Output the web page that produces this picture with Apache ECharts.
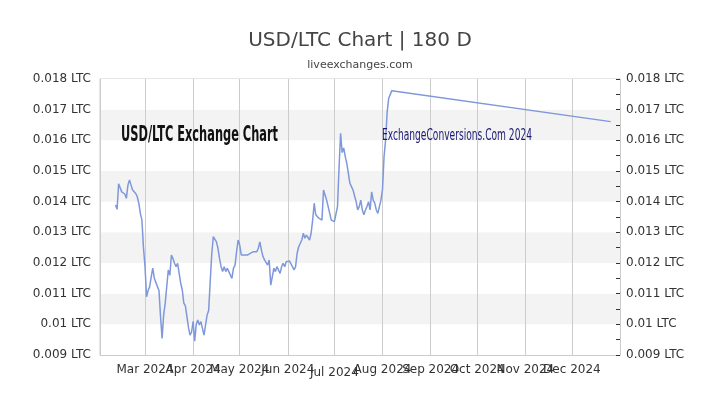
<!DOCTYPE html>
<html>
<head>
<meta charset="utf-8">
<script src="https://cdn.jsdelivr.net/npm/echarts@6/dist/echarts.min.js"></script>
<style>
  html, body { margin: 0; padding: 0; background: #fff; }
  #chart { width: 720px; height: 405px; }
</style>
</head>
<body>
<div id="chart"></div>
<script>
// ---- data ----
const startDate = [2024, 1, 11]; // 11 Feb 2024, one value per day
const dailyValues = [
  0.01389, 0.01375, 0.01458, 0.01445, 0.01432, 0.01436, 0.01425, 0.01411, 0.01454, 0.01471,
  0.01454, 0.01438, 0.01432, 0.01427, 0.01416, 0.01395, 0.01362, 0.01340, 0.01250, 0.01188,
  0.01090, 0.01110, 0.01123, 0.01155, 0.01183, 0.01150, 0.01150, 0.01123, 0.01110, 0.01025,
  0.00954, 0.01030, 0.01069, 0.01123, 0.01177, 0.01160, 0.01226, 0.01215, 0.01199, 0.01188,
  0.01199, 0.01166, 0.01134, 0.01112, 0.01069, 0.01060, 0.01063, 0.00990, 0.00965, 0.00975,
  0.01010, 0.00945, 0.01000, 0.01014, 0.00998, 0.01009, 0.00987, 0.00965, 0.00998, 0.01030,
  0.01045, 0.01139, 0.01230, 0.01286, 0.01281, 0.01269, 0.01248, 0.01215, 0.01188, 0.01172,
  0.01188, 0.01172, 0.01183, 0.01172, 0.01177, 0.01150, 0.01183, 0.01193, 0.01237, 0.01275,
  0.01259, 0.01226, 0.01221, 0.01226, 0.01221, 0.01226, 0.01221, 0.01232, 0.01226, 0.01237,
  0.01232, 0.01237, 0.01248, 0.01269, 0.01242, 0.01221, 0.01210, 0.01204, 0.01193, 0.01210,
  0.01128, 0.01155, 0.01183, 0.01172, 0.01188, 0.01183, 0.01166, 0.01188, 0.01199, 0.01188,
  0.01204, 0.01210, 0.01207, 0.01204, 0.01188, 0.01177, 0.01188, 0.01232, 0.01253, 0.01248,
  0.01275, 0.01297, 0.01281, 0.01291, 0.01286, 0.01275, 0.01297, 0.01340, 0.01395, 0.01357,
  0.01362, 0.01346, 0.01351, 0.01340, 0.01438, 0.01422, 0.01405, 0.01384, 0.01362, 0.01340,
  0.01340, 0.01335, 0.01340, 0.01384, 0.01510, 0.01623, 0.01560, 0.01575, 0.01547, 0.01525,
  0.01492, 0.01460, 0.01449, 0.01438, 0.01432, 0.01400, 0.01373, 0.01384, 0.01405, 0.01373,
  0.01357, 0.01373, 0.01384, 0.01400, 0.01373, 0.01432, 0.01405, 0.01395, 0.01373, 0.01362,
  0.01384, 0.01405, 0.01440, 0.01547, 0.01601, 0.01693, 0.01737, 0.01732, 0.01762
];
const lastPoint = ['2024-12-26', 0.01661];
const xRange = ['2024-02-01', '2025-01-01'];
const yRange = [0.009, 0.018];
const yStep = 0.001;
const monthNames = ['Jan','Feb','Mar','Apr','May','Jun','Jul','Aug','Sep','Oct','Nov','Dec'];
const titleText = 'USD/LTC Chart | 180 D';
const subText = 'liveexchanges.com';
const overlayLeft = 'USD/LTC Exchange Chart';
const overlayRight = 'ExchangeConversions.Com 2024';

// ---- build ----
const seriesData = dailyValues.map((v, i) => [new Date(startDate[0], startDate[1], startDate[2] + i), v]);
seriesData.push([lastPoint[0], lastPoint[1]]);

function fitScale(text, font, target) {
  const c = document.createElement('canvas').getContext('2d');
  c.font = font;
  const w = c.measureText(text).width;
  return w > 0 ? target / w : 1;
}
const fontL = 'bold 22px "Liberation Sans Narrow", "DejaVu Sans Condensed", "Liberation Sans", sans-serif';
const fontR = '15px "Liberation Sans Narrow", "DejaVu Sans Condensed", "Liberation Sans", sans-serif';

const yLabel = v => (+(+v).toFixed(3)) + ' LTC';

const chart = echarts.init(document.getElementById('chart'), null, { renderer: 'canvas' });
chart.setOption({
  animation: false,
  backgroundColor: '#fff',
  title: {
    text: titleText,
    subtext: subText,
    left: 'center',
    top: 31,
    padding: 0,
    itemGap: 9,
    textStyle: { fontFamily: 'DejaVu Sans', fontSize: 20, fontWeight: 'normal', color: '#444' },
    subtextStyle: { fontFamily: 'DejaVu Sans', fontSize: 11, color: '#444' }
  },
  grid: { left: 100, right: 100, top: 79, bottom: 50, show: true, borderColor: '#ccc', borderWidth: 1 },
  xAxis: {
    type: 'time',
    min: xRange[0],
    max: xRange[1],
    splitNumber: 12,
    minInterval: 28 * 86400000,
    maxInterval: 31 * 86400000,
    axisLine: { show: true, lineStyle: { color: '#ccc' } },
    axisTick: { show: false },
    splitLine: { show: true, lineStyle: { color: '#ccc', width: 1 } },
    axisLabel: {
      fontFamily: 'DejaVu Sans', fontSize: 12, color: '#333', margin: 9,
      hideOverlap: false,
      showMinLabel: false, showMaxLabel: false,
      formatter: function (val) {
        const d = new Date(val);
        const m = d.getMonth();
        if (m === 1 && d.getFullYear() === 2024) return '';
        if (d.getFullYear() === 2025) return '';
        const s = monthNames[m] + ' ' + d.getFullYear();
        return m === 6 ? '{low|' + s + '}' : s;
      },
      rich: { low: { fontFamily: 'DejaVu Sans', fontSize: 12, color: '#333', padding: [3, 0, 0, 0] } }
    }
  },
  yAxis: [
    {
      type: 'value', position: 'left',
      min: yRange[0], max: yRange[1], interval: yStep,
      axisLine: { show: true, lineStyle: { color: '#ccc' } },
      axisTick: { show: false },
      splitLine: { show: false },
      splitArea: { show: true, areaStyle: { color: ['#ffffff', '#f3f3f3'] } },
      axisLabel: { fontFamily: 'DejaVu Sans', fontSize: 12, color: '#333', margin: 9, formatter: yLabel }
    },
    {
      type: 'value', position: 'right',
      min: yRange[0], max: yRange[1], interval: yStep,
      axisLine: { show: true, lineStyle: { color: '#ccc' } },
      axisTick: { show: true, inside: true, length: 4, lineStyle: { color: '#333' } },
      minorTick: { show: true, splitNumber: 2, length: 4, lineStyle: { color: '#333' } },
      splitLine: { show: false },
      axisLabel: { fontFamily: 'DejaVu Sans', fontSize: 12, color: '#333', margin: 6, formatter: yLabel }
    }
  ],
  graphic: [
    {
      type: 'text', x: 121, y: 135, scaleX: fitScale(overlayLeft, fontL, 157),
      style: { text: overlayLeft, font: fontL, fill: '#111', verticalAlign: 'middle', align: 'left' },
      z: 100
    },
    {
      type: 'text', x: 382, y: 136, scaleX: fitScale(overlayRight, fontR, 150),
      style: { text: overlayRight, font: fontR, fill: '#1a1a75', verticalAlign: 'middle', align: 'left' },
      z: 100
    }
  ],
  series: [{
    type: 'line',
    yAxisIndex: 0,
    data: seriesData,
    showSymbol: false,
    symbol: 'none',
    lineStyle: { color: '#7f98db', width: 1.5 },
    z: 5
  }]
});
</script>
</body>
</html>
